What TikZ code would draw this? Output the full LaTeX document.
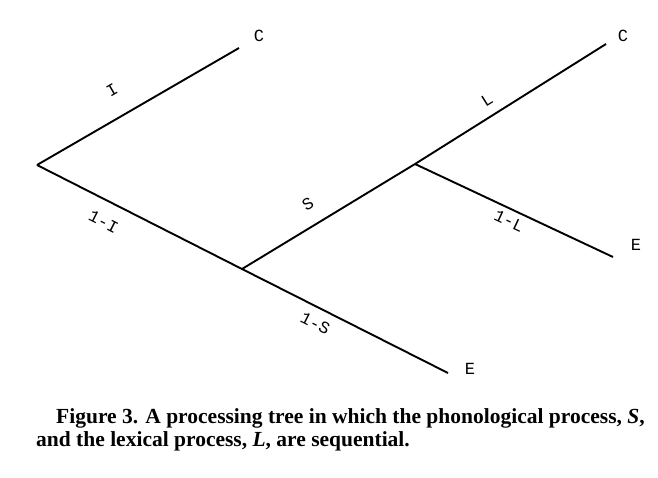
\documentclass[tikz,border=0pt]{standalone}
\usepackage{fontspec}
\setmainfont{Liberation Serif}
\newfontfamily\treefont{Liberation Mono}
\usetikzlibrary{positioning}

\begin{document}
\begin{tikzpicture}[x=1pt, y=-1pt, every node/.style={inner sep=0pt, font=\treefont\fontsize{17}{20}\selectfont},
		branch/.style={line width=1.9pt}, caption/.style={anchor=base west, font=\bfseries\fontsize{21.5}{24}\selectfont}]
			\useasboundingbox (0,0) rectangle (658,477);
			% branch points and ends of the tree
			\coordinate (root) at (37,165);
			\coordinate (split) at (242,269);
			\coordinate (mid) at (415,164);
			\coordinate (endI) at (239,48);
			\coordinate (endS) at (448,373);
			\coordinate (endL) at (606,44);
			\coordinate (endNL) at (613,257);
			\node (cI) at (259,36) {C};
			\node (cL) at (623,36) {C};
			\node (eL) at (636,245) {E};
			\node (eS) at (470,369) {E};
			\draw[branch] (root) -- node[pos=0.44, sloped, above=21pt] (pI) {I} (endI);
			\draw[branch] (root) -- node[pos=0.37, sloped, below=14pt] (pNI) {1-I} (split) -- node[pos=0.39, sloped, below=9pt] (pNS) {1-S} (endS);
			\draw[branch] (split) -- node[pos=0.445, sloped, above=15pt] (pS) {S} (mid);
			\draw[branch] (mid) -- node[pos=0.42, sloped, above=9pt] (pL) {L} (endL);
			\draw[branch] (mid) -- node[pos=0.5, sloped, below=5pt] (pNL) {1-L} (endNL);
			% caption
			\node[caption] (capA) at (56,423) {Figure 3. A processing tree in which the phonological process, \textit{S},};
			\node[caption] (capB) at (36,446) {and the lexical process, \textit{L}, are sequential.};
		\end{tikzpicture}
\end{document}
